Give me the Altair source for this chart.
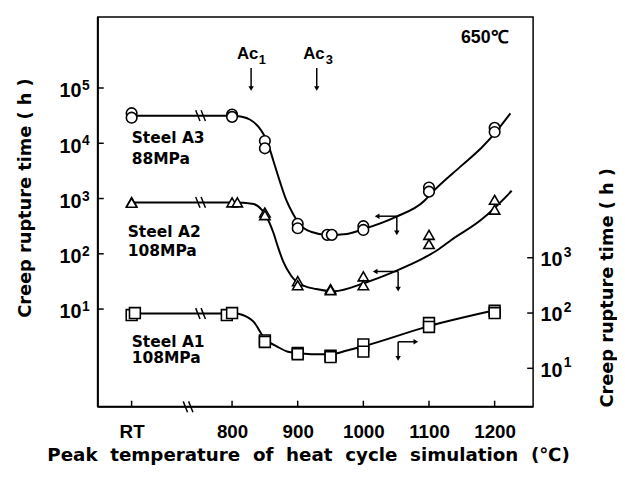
import altair as alt
import pandas as pd

RT = 647  # position used for the "RT" category on the broken temperature axis

# ---------------- data ----------------
# Steel A3, 88 MPa (left axis, hours)
a3_temp = [RT, RT, 800, 800, 850, 850, 900, 900, 945, 952, 1000, 1000, 1100, 1100, 1200, 1200]
a3_hours = [35000, 29000, 33000, 30000, 11000, 8100, 350, 290, 220, 220, 316, 270, 1580, 1330, 19000, 16000]
a3_curve_temp = [RT, 800, 815, 827, 840, 848, 855, 863, 873, 883, 893, 904, 920, 947, 975, 1001,
                 1048, 1093, 1105, 1150, 1180, 1203, 1224]
a3_curve_hours = [31600, 31600, 30200, 26900, 20000, 14500, 9550, 4790, 2000, 912, 525, 331, 251, 219,
                  229, 282, 457, 912, 1300, 3980, 8300, 16600, 34700]

# Steel A2, 108 MPa (left axis, hours)
a2_temp = [RT, RT, 800, 808, 850, 850, 900, 900, 950, 950, 1000, 1000, 1100, 1100, 1200, 1200]
a2_hours = [860, 840, 850, 850, 560, 500, 32, 27, 23, 22, 39, 27, 220, 150, 950, 630]
a2_curve_temp = [RT, 810, 833, 845, 852, 863, 870, 878, 890, 900, 928, 955, 1003, 1048, 1093, 1113,
                 1134, 1179, 1200, 1226]
a2_curve_hours = [851, 851, 794, 631, 479, 240, 132, 72, 40, 30, 23, 21, 30, 48, 85, 117, 178, 407, 676, 1380]

# Steel A1, 108 MPa (right axis, hours)
a1_temp = [RT, 652, 792, 800, 850, 850, 900, 900, 950, 950, 1000, 1000, 1100, 1100, 1200, 1200]
a1_hours = [92, 100, 92, 100, 32, 30, 19, 18, 17, 16, 27, 20, 66, 56, 110, 100]
a1_curve_temp = [RT, 805, 815, 833, 850, 868, 885, 900, 925, 950, 975, 1000, 1100, 1200]
a1_curve_hours = [98, 98, 93, 69, 34, 25, 20, 19, 18, 18, 21, 25, 58, 112]

x_tick_values = [RT, 800, 900, 1000, 1100, 1200]
left_tick_values = [10, 100, 1000, 10000, 100000]
left_exponents = ["1", "2", "3", "4", "5"]
right_tick_values = [10, 100, 1000]
right_exponents = ["1", "2", "3"]

# ---------------- scales / axes ----------------
X_DOMAIN = [595.5, 1258.6]
YL_DOMAIN = [10 ** -0.768, 10 ** 6.286]
YR_DOMAIN = [10 ** 0.304, 10 ** 7.357]
FONT = "Liberation Sans"
TFONT = "DejaVu Sans"
G = "\u00a0 "

x_axis = alt.Axis(
    values=x_tick_values, ticks=False, domain=False, grid=False,
    labelExpr="datum.value < 700 ? 'RT' : format(datum.value, 'd')",
    labelFont=FONT, labelFontWeight="bold", labelFontSize=19, labelColor="black", labelPadding=16,
    title=f"Peak{G}temperature{G}of{G}heat{G}cycle{G}simulation{G}(℃)",
    titleFont=TFONT, titleFontWeight="bold", titleFontSize=18.5, titleColor="black",
    titleX=213, titleY=48, titleBaseline="middle", titleAlign="center",
)
x_scale = alt.Scale(domain=X_DOMAIN, nice=False, zero=False)

def X(field="t"):
    return alt.X(f"{field}:Q", scale=x_scale, axis=x_axis)

YTITLE = "Creep rupture time ( h )"
left_axis = alt.Axis(
    values=left_tick_values, ticks=False, domain=False, grid=False,
    labelExpr="'10'", labelOffset=3,
    labelFont=FONT, labelFontWeight="bold", labelFontSize=20, labelColor="black", labelPadding=17,
    title=YTITLE, titleFont=TFONT, titleFontWeight="bold", titleFontSize=18,
    titleColor="black", titleAngle=270, titleX=-73, titleY=183, titleBaseline="middle", titleAlign="center",
)
yl_scale = alt.Scale(type="log", domain=YL_DOMAIN, nice=False)

right_axis = alt.Axis(
    orient="right", values=right_tick_values, ticks=False, domain=False, grid=False,
    labelExpr="'10'", labelOffset=2,
    labelFont=FONT, labelFontWeight="bold", labelFontSize=20, labelColor="black", labelPadding=7,
    title=YTITLE, titleFont=TFONT, titleFontWeight="bold", titleFontSize=18,
    titleColor="black", titleAngle=270, titleX=75, titleY=274, titleBaseline="middle", titleAlign="center",
)
yr_scale = alt.Scale(type="log", domain=YR_DOMAIN, nice=False)

def YL(field="h"):
    return alt.Y(f"{field}:Q", scale=yl_scale, axis=left_axis)

def YR(field="h"):
    return alt.Y(f"{field}:Q", scale=yr_scale, axis=right_axis)

BREAK = "M -0.9 -1 L -0.1 1 M 0.1 -1 L 0.9 1"

# ---------------- left-axis layer ----------------
a3_pts = pd.DataFrame({"t": a3_temp, "h": a3_hours})
a2_pts = pd.DataFrame({"t": a2_temp, "h": a2_hours})
a3_cur = pd.DataFrame({"t": a3_curve_temp, "h": a3_curve_hours})
a2_cur = pd.DataFrame({"t": a2_curve_temp, "h": a2_curve_hours})

line_a3 = alt.Chart(a3_cur).mark_line(color="black", strokeWidth=2, interpolate="monotone").encode(x=X(), y=YL())
line_a2 = alt.Chart(a2_cur).mark_line(color="black", strokeWidth=2, interpolate="monotone").encode(x=X(), y=YL())
pts_a3 = alt.Chart(a3_pts).mark_point(shape="circle", size=115, filled=True, fill="white", stroke="black",
                                       strokeWidth=1.6, opacity=1).encode(x=X(), y=YL())
pts_a2 = alt.Chart(a2_pts).mark_point(shape="triangle-up", size=110, filled=True, fill="white", stroke="black",
                                       strokeWidth=1.6, opacity=1).encode(x=X(), y=YL())

breaks_left = pd.DataFrame({"t": [752, 752, 733], "h": [31600, 851, YL_DOMAIN[0]]})
brk_l = alt.Chart(breaks_left).mark_point(shape=BREAK, size=120, filled=False, stroke="black",
                                           strokeWidth=1.5, opacity=1).encode(x=X(), y=YL())

# inward ticks
lt = pd.DataFrame({"t": [X_DOMAIN[0]] * len(left_tick_values), "t2": [X_DOMAIN[0] + 9] * len(left_tick_values),
                   "h": left_tick_values, "e": left_exponents})
ticks_left = alt.Chart(lt).mark_rule(color="black", strokeWidth=1.5).encode(x=X(), x2="t2:Q", y=YL())
exp_left = alt.Chart(lt).mark_text(align="left", baseline="middle", dx=-16, dy=-2, font=FONT,
                                   fontWeight="bold", fontSize=14, color="black").encode(x=X(), y=YL(), text="e:N")
xt = pd.DataFrame({"t": x_tick_values, "h": [YL_DOMAIN[0]] * len(x_tick_values),
                   "h2": [YL_DOMAIN[0] * 10 ** 0.11] * len(x_tick_values)})
ticks_x = alt.Chart(xt).mark_rule(color="black", strokeWidth=1.5).encode(x=X(), y=YL(), y2="h2:Q")

# thicker left / bottom frame
frame = pd.DataFrame({"t": [X_DOMAIN[0], X_DOMAIN[0]], "t2": [X_DOMAIN[0], X_DOMAIN[1]],
                      "h": [YL_DOMAIN[0], YL_DOMAIN[0]], "h2": [YL_DOMAIN[1], YL_DOMAIN[0]]})
frame_l = alt.Chart(frame).mark_rule(color="black", strokeWidth=2).encode(x=X(), x2="t2:Q", y=YL(), y2="h2:Q")

# annotations
labels = pd.DataFrame({
    "t": [647, 647, 641, 641, 647, 647],
    "h": [12300, 5130, 245, 112, 2.57, 1.28],
    "txt": ["Steel A3", "88MPa", "Steel A2", "108MPa", "Steel A1", "108MPa"],
})
lab = alt.Chart(labels).mark_text(align="left", baseline="middle", font=TFONT, fontWeight="bold",
                                   fontSize=15.7, color="black").encode(x=X(), y=YL(), text="txt:N")
tops = pd.DataFrame({"t": [807.5, 908.3], "h": [404000, 404000], "txt": ["Ac", "Ac"]})
top_lab = alt.Chart(tops).mark_text(align="left", baseline="middle", font=FONT, fontWeight="bold",
                                    fontSize=17, color="black").encode(x=X(), y=YL(), text="txt:N")
subs = pd.DataFrame({"t": [840.6, 942.9], "h": [320000, 320000], "txt": ["1", "3"]})
sub_lab = alt.Chart(subs).mark_text(align="left", baseline="middle", font=FONT, fontWeight="bold",
                                    fontSize=13, color="black").encode(x=X(), y=YL(), text="txt:N")
temp_lab = alt.Chart(pd.DataFrame({"t": [1185], "h": [813000], "txt": ["650℃"]})).mark_text(
    align="center", baseline="middle", font=FONT, fontWeight="bold", fontSize=18, color="black"
).encode(x=X(), y=YL(), text="txt:N")

arrows_l = pd.DataFrame({
    "t": [829, 929, 1021, 1051, 1018, 1053],
    "t2": [829, 929, 1051, 1051, 1053, 1053],
    "h": [229000, 229000, 479, 479, 47.9, 47.9],
    "h2": [98000, 98000, 479, 240, 47.9, 22.9],
})
arr_l = alt.Chart(arrows_l).mark_rule(color="black", strokeWidth=1.5).encode(x=X(), x2="t2:Q", y=YL(), y2="h2:Q")
heads_down_l = pd.DataFrame({"t": [829, 929, 1051, 1053], "h": [98000, 98000, 240, 22.9]})
hd_l = alt.Chart(heads_down_l).mark_point(shape="triangle-down", size=30, filled=True, color="black",
                                          opacity=1).encode(x=X(), y=YL())
heads_left = pd.DataFrame({"t": [1021, 1018], "h": [479, 47.9]})
hl_l = alt.Chart(heads_left).mark_point(shape="triangle-left", size=30, filled=True, color="black",
                                        opacity=1).encode(x=X(), y=YL())

left_layer = alt.layer(frame_l, ticks_left, exp_left, ticks_x, line_a3, line_a2, brk_l, pts_a3, pts_a2,
                       lab, top_lab, sub_lab, temp_lab, arr_l, hd_l, hl_l)

# ---------------- right-axis layer ----------------
a1_pts = pd.DataFrame({"t": a1_temp, "h": a1_hours})
a1_cur = pd.DataFrame({"t": a1_curve_temp, "h": a1_curve_hours})
line_a1 = alt.Chart(a1_cur).mark_line(color="black", strokeWidth=2, interpolate="monotone").encode(x=X(), y=YR())
pts_a1 = alt.Chart(a1_pts).mark_point(shape="square", size=120, filled=True, fill="white", stroke="black",
                                       strokeWidth=1.6, opacity=1).encode(x=X(), y=YR())
brk_r = alt.Chart(pd.DataFrame({"t": [752], "h": [98]})).mark_point(
    shape=BREAK, size=120, filled=False, stroke="black", strokeWidth=1.5, opacity=1).encode(x=X(), y=YR())
rt = pd.DataFrame({"t": [X_DOMAIN[1] - 9] * len(right_tick_values), "t2": [X_DOMAIN[1]] * len(right_tick_values),
                   "h": right_tick_values, "e": right_exponents})
ticks_right = alt.Chart(rt).mark_rule(color="black", strokeWidth=1.5).encode(x=X(), x2="t2:Q", y=YR())
exp_right = alt.Chart(rt).mark_text(align="left", baseline="middle", dx=31, dy=-5, font=FONT,
                                    fontWeight="bold", fontSize=14, color="black").encode(
    x=alt.X("t2:Q", scale=x_scale, axis=x_axis), y=YR(), text="e:N")
arrows_r = pd.DataFrame({"t": [1053, 1053], "t2": [1053, 1080], "h": [30.2, 30.2], "h2": [15.1, 30.2]})
arr_r = alt.Chart(arrows_r).mark_rule(color="black", strokeWidth=1.5).encode(x=X(), x2="t2:Q", y=YR(), y2="h2:Q")
hd_r = alt.Chart(pd.DataFrame({"t": [1053], "h": [15.1]})).mark_point(
    shape="triangle-down", size=30, filled=True, color="black", opacity=1).encode(x=X(), y=YR())
hr_r = alt.Chart(pd.DataFrame({"t": [1080], "h": [30.2]})).mark_point(
    shape="triangle-right", size=30, filled=True, color="black", opacity=1).encode(x=X(), y=YR())

right_layer = alt.layer(ticks_right, exp_right, line_a1, brk_r, pts_a1, arr_r, hd_r, hr_r)

chart = alt.layer(left_layer, right_layer).resolve_scale(y="independent").properties(
    width=441, height=395,
    padding={"left": 91, "top": 6, "right": 85, "bottom": 60},
    autosize=alt.AutoSizeParams(type="none"),
    background="white",
).configure_view(stroke="black", strokeWidth=1.5)

chart.save("out.html", embed_options={"renderer": "svg", "actions": False})
